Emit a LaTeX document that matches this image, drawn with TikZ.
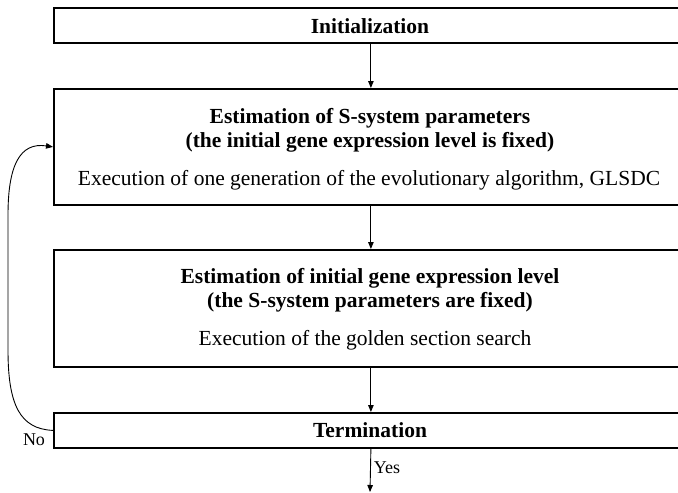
\documentclass[tikz,border=0pt]{standalone}
\usepackage{fontspec}
\setmainfont{Liberation Serif}
\usetikzlibrary{arrows.meta}
\begin{document}
\begin{tikzpicture}[x=1pt,y=-1pt,
  stagebox/.style={draw,line width=1.8pt,minimum width=634pt,anchor=north west,inner sep=0pt},
  headtext/.style={font=\fontsize{21.5}{24}\selectfont\bfseries,inner sep=0pt},
  bodytext/.style={font=\fontsize{21.5}{24}\selectfont,inner sep=0pt},
  flowlabel/.style={font=\fontsize{18}{20}\selectfont,inner sep=0pt},
  flow/.style={line width=0.9pt,-{Triangle[length=7pt,width=5.5pt]}}]
\useasboundingbox (0,0) rectangle (678,493);
\clip (0,0) rectangle (678,493);

% stage boxes (they run past the right edge of the page)
\node[stagebox,minimum height=35pt] (init) at (53,7) {};
\node[stagebox,minimum height=116pt] (param) at (53,88) {};
\node[stagebox,minimum height=117pt] (level) at (53,249) {};
\node[stagebox,minimum height=35pt] (term) at (53,412) {};

% texts, centred on the boxes' middle line
\node[headtext] (tinit) at (370,26) {Initialization};
\node[headtext] (tp1) at (370,118) {Estimation of S-system parameters};
\node[headtext] (tp2) at (370,142) {(the initial gene expression level is fixed)};
\node[bodytext] (tp3) at (369,180) {Execution of one generation of the evolutionary algorithm, GLSDC};
\node[headtext] (tl1) at (370,278) {Estimation of initial gene expression level};
\node[headtext] (tl2) at (370,302) {(the S-system parameters are fixed)};
\node[bodytext] (tl3) at (365,340) {Execution of the golden section search};
\node[headtext] (tterm) at (370,430) {Termination};

% connectors
\coordinate (done) at (370,492);
\draw[flow] (init.south) -- (param.north);
\draw[flow] (param.south) -- (level.north);
\draw[flow] (level.south) -- (term.north);
\draw[flow] (term.south) -- (done);
\draw[flow] (term.west) .. controls (20,429) and (8,405) .. (8,350)
  -- (8,215) .. controls (8,165) and (20,142) .. (param.west);

% branch labels
\node[flowlabel] (yes) at (387,468) {Yes};
\node[flowlabel] (no) at (34,440) {No};
\end{tikzpicture}
\end{document}
